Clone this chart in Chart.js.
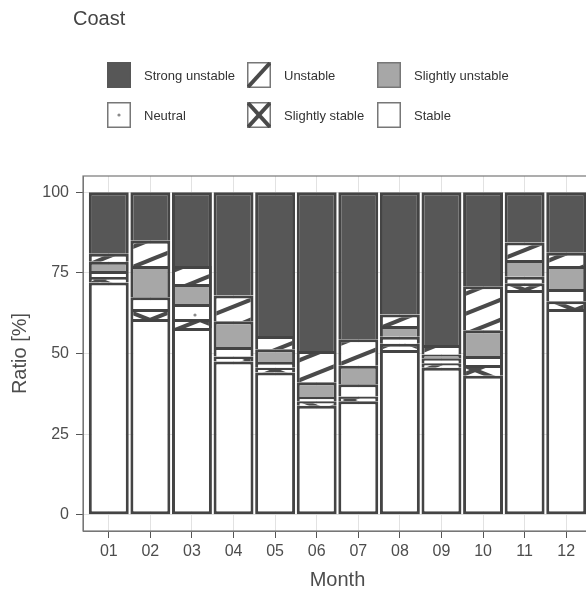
<!DOCTYPE html>
<html>
<head>
<meta charset="utf-8">
<script src="https://cdn.jsdelivr.net/npm/chart.js@4.4.1/dist/chart.umd.min.js"></script>
<style>
  html, body { margin: 0; padding: 0; background: #fff; overflow: hidden; }
  body { width: 586px; height: 592px; position: relative; font-family: "Liberation Sans", Arial, sans-serif; }
  #grafico { position: absolute; left: 0; top: 0; }
  #titulo { position: absolute; left: 73px; top: 7px; font-size: 20px; color: #444; }
  #leyenda { position: absolute; left: 107px; top: 62px; }
  .item { position: absolute; display: flex; align-items: center; font-size: 13px; color: #333; white-space: nowrap; }
  .item canvas { margin-right: 13px; }
</style>
</head>
<body>
<canvas id="grafico" width="600" height="592"></canvas>
<div id="titulo">Coast</div>
<div id="leyenda"></div>
<script>
const meses = ['01', '02', '03', '04', '05', '06', '07', '08', '09', '10', '11', '12'];
const yTicks = [0, 25, 50, 75, 100];

// de abajo hacia arriba
const stable           = [72.0, 60.7, 57.9, 47.5, 44.1, 33.8, 35.2, 51.1, 45.6, 43.1, 69.7, 63.8];
const slightlyStable   = [1.7, 3.1, 2.8, 1.6, 1.5, 1.4, 1.5, 1.9, 1.4, 3.3, 2.1, 2.4];
const neutral          = [1.9, 3.6, 4.6, 2.9, 1.8, 1.3, 3.8, 2.2, 1.5, 2.8, 2.0, 3.8];
const slightlyUnstable = [2.8, 9.7, 6.2, 8.0, 3.9, 4.6, 5.7, 3.3, 1.2, 8.0, 5.2, 7.1];
const unstable         = [2.5, 7.8, 5.6, 8.0, 4.1, 9.7, 8.2, 3.6, 2.9, 13.6, 5.4, 4.1];
const strongUnstable   = [19.1, 15.1, 22.9, 32.0, 44.6, 49.2, 45.6, 37.9, 47.4, 29.2, 15.6, 18.8];

const fuente = '"Liberation Sans", Arial, sans-serif';
Chart.defaults.font.family = fuente;

const borde = '#444444';
const oscuro = '#575757';
const gris = '#a7a7a7';

function patron(tipo) {
  const c = document.createElement('canvas');
  const w = tipo === 'punto' ? 30 : 50;
  const h = tipo === 'punto' ? 30 : 20;
  c.width = w; c.height = h;
  const g = c.getContext('2d');
  g.fillStyle = '#fff';
  g.fillRect(0, 0, w, h);
  g.strokeStyle = '#4a4a4a';
  g.lineWidth = 4;
  if (tipo === 'punto') {
    g.fillStyle = '#8a8a8a';
    g.beginPath();
    g.arc(15, 15, 1.6, 0, Math.PI * 2);
    g.fill();
  } else {
    for (let k = -2; k <= 2; k++) {
      g.beginPath();
      g.moveTo(-w, 2 * h + k * h);
      g.lineTo(2 * w, -h + k * h);
      g.stroke();
      if (tipo === 'cruz') {
        g.beginPath();
        g.moveTo(-w, -h + k * h);
        g.lineTo(2 * w, 2 * h + k * h);
        g.stroke();
      }
    }
  }
  return g.createPattern(c, 'repeat');
}

const series = [
  { label: 'Stable', data: stable, fondo: '#ffffff', tipo: 'blanco' },
  { label: 'Slightly stable', data: slightlyStable, fondo: patron('cruz'), tipo: 'cruz' },
  { label: 'Neutral', data: neutral, fondo: patron('punto'), tipo: 'punto' },
  { label: 'Slightly unstable', data: slightlyUnstable, fondo: gris, tipo: 'gris' },
  { label: 'Unstable', data: unstable, fondo: patron('raya'), tipo: 'raya' },
  { label: 'Strong unstable', data: strongUnstable, fondo: oscuro, tipo: 'oscuro' }
];

// leyenda en html, 3 columnas
const columnas = [0, 140, 270];
const leyenda = document.getElementById('leyenda');
series.slice().reverse().forEach((s, i) => {
  const item = document.createElement('div');
  item.className = 'item';
  item.style.left = columnas[i % 3] + 'px';
  item.style.top = (Math.floor(i / 3) * 40) + 'px';
  const cv = document.createElement('canvas');
  cv.width = 24; cv.height = 26;
  const g = cv.getContext('2d');
  g.fillStyle = s.tipo === 'oscuro' ? oscuro : (s.tipo === 'gris' ? gris : '#fff');
  g.fillRect(0, 0, 24, 26);
  g.strokeStyle = s.tipo === 'oscuro' ? oscuro : '#777';
  g.lineWidth = 1.5;
  g.strokeRect(0.75, 0.75, 22.5, 24.5);
  g.strokeStyle = '#4a4a4a';
  g.lineWidth = 4;
  if (s.tipo === 'raya' || s.tipo === 'cruz') {
    g.beginPath(); g.moveTo(1, 25); g.lineTo(23, 1); g.stroke();
  }
  if (s.tipo === 'cruz') {
    g.beginPath(); g.moveTo(1, 1); g.lineTo(23, 25); g.stroke();
  }
  if (s.tipo === 'punto') {
    g.fillStyle = '#8a8a8a';
    g.beginPath(); g.arc(12, 13, 1.6, 0, Math.PI * 2); g.fill();
  }
  item.appendChild(cv);
  item.appendChild(document.createTextNode(s.label));
  leyenda.appendChild(item);
});

const marco = {
  id: 'marco',
  afterDraw(chart) {
    const a = chart.chartArea;
    const c = chart.ctx;
    c.save();
    c.strokeStyle = '#777';
    c.lineWidth = 1.2;
    c.strokeRect(a.left, a.top, a.right - a.left, a.bottom - a.top);
    c.restore();
  }
};

new Chart(document.getElementById('grafico').getContext('2d'), {
  type: 'bar',
  data: {
    datasets: series.map((s, idx) => ({
      label: s.label,
      data: s.data.map((v, i) => ({ x: i + 1, y: v })),
      backgroundColor: s.fondo,
      borderColor: borde,
      borderWidth: 3,
      borderSkipped: idx === 0 ? false : 'start',
      barPercentage: 0.96,
      categoryPercentage: 1
    }))
  },
  options: {
    responsive: false,
    animation: false,
    layout: { padding: { top: 176, right: 8, left: 0, bottom: 0 } },
    plugins: { legend: { display: false }, tooltip: { enabled: false } },
    scales: {
      x: {
        type: 'linear',
        min: 0.38,
        max: 12.62,
        stacked: true,
        offset: false,
        ticks: {
          stepSize: 1,
          includeBounds: false,
          autoSkip: false,
          maxRotation: 0,
          callback: v => meses[v - 1],
          font: { size: 16 },
          color: '#4d4d4d',
          padding: 4
        },
        grid: { offset: false, color: '#e2e2e2', tickColor: '#555', tickLength: 7 },
        border: { color: '#777' },
        title: { display: true, text: 'Month', font: { size: 20 }, color: '#4d4d4d', padding: { top: 0, bottom: 0 } },
        afterFit(s) { s.height = 61; }
      },
      y: {
        min: -5,
        max: 105,
        stacked: true,
        afterBuildTicks(s) { s.ticks = yTicks.map(v => ({ value: v })); },
        ticks: { font: { size: 16 }, color: '#4d4d4d', padding: 7 },
        grid: { color: '#e2e2e2', tickColor: '#555', tickLength: 7 },
        border: { color: '#777' },
        title: { display: true, text: 'Ratio [%]', font: { size: 20 }, color: '#4d4d4d', padding: { top: 8, bottom: 0 } },
        afterFit(s) { s.width = 83; }
      }
    }
  },
  plugins: [marco]
});
</script>
</body>
</html>
